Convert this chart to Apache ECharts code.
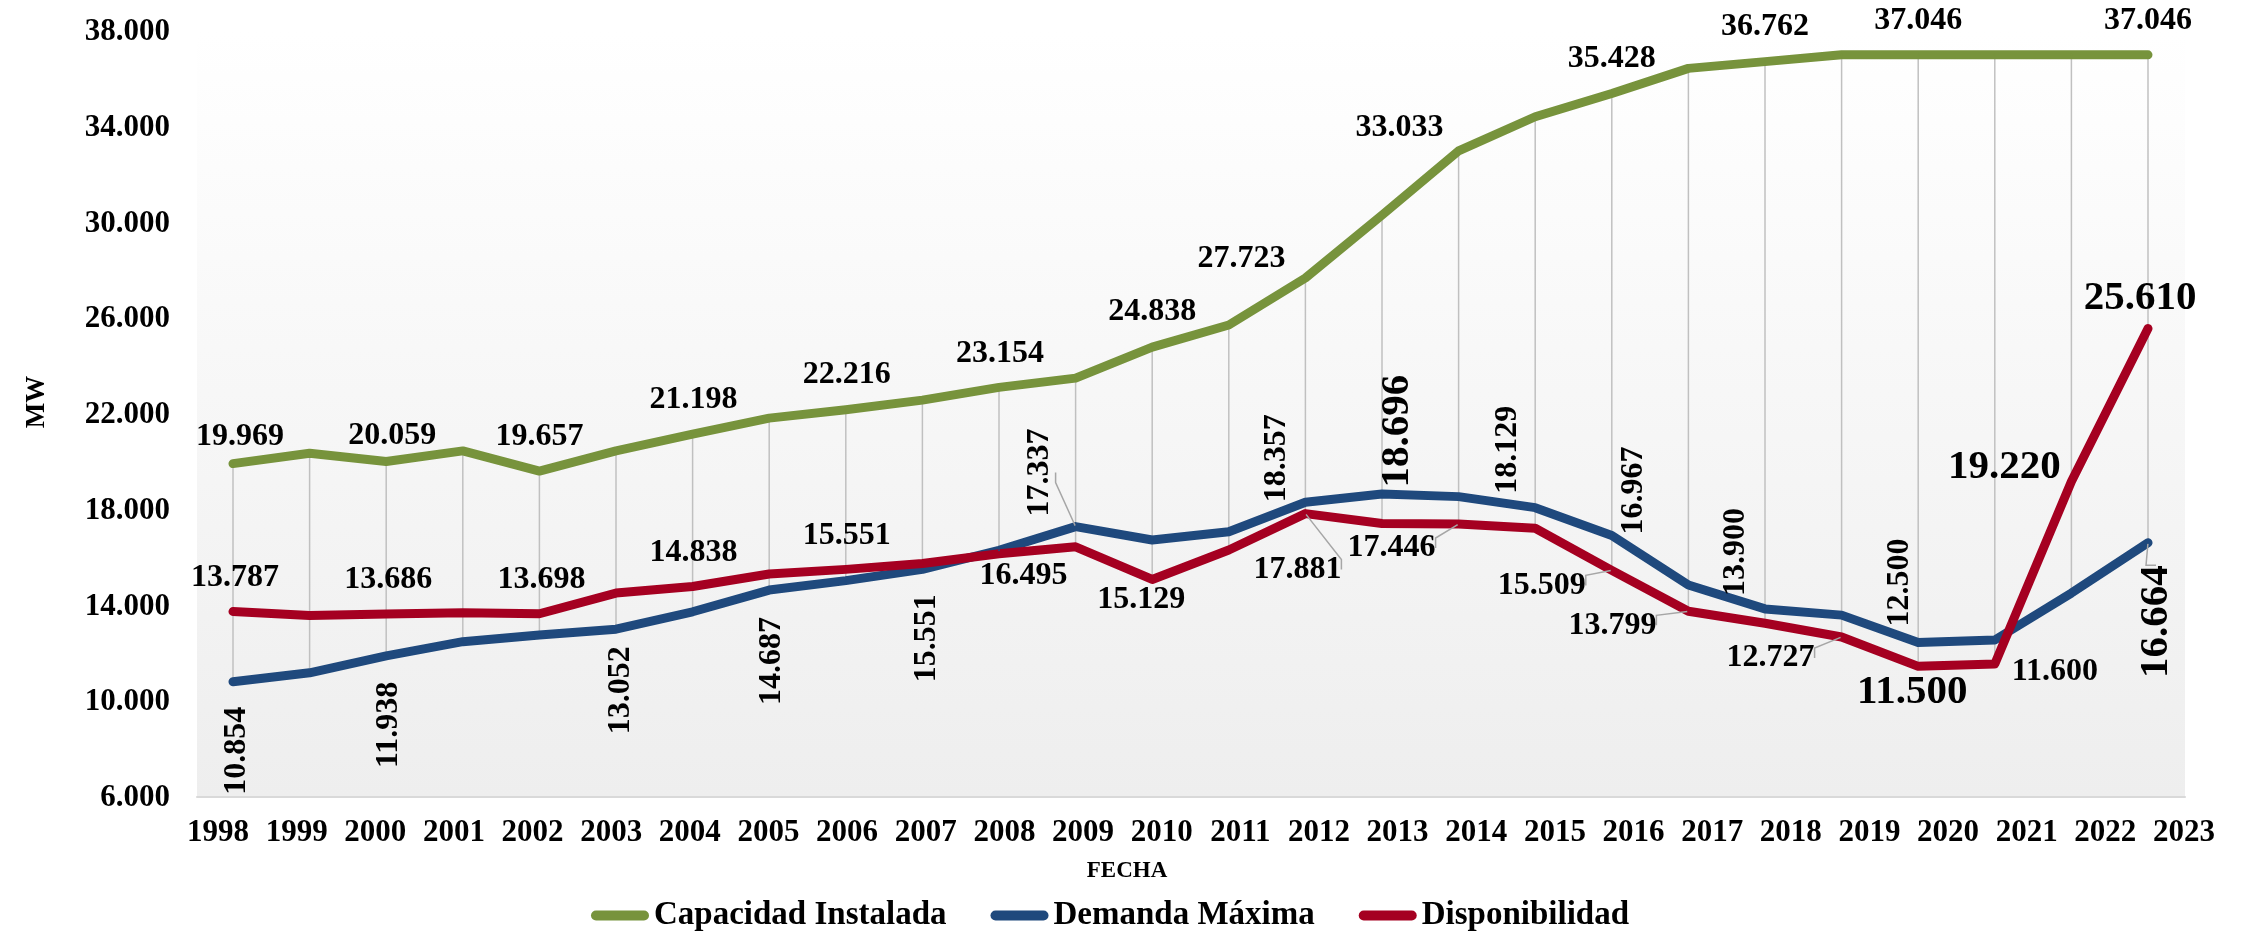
<!DOCTYPE html>
<html>
<head>
<meta charset="utf-8">
<title>Capacidad Instalada, Demanda Máxima y Disponibilidad</title>
<script src="https://cdn.jsdelivr.net/npm/echarts@6/dist/echarts.min.js"></script>
<style>
  html, body { margin: 0; padding: 0; background: #ffffff; }
  #chart { width: 2242px; height: 936px; }
</style>
</head>
<body>
<div id="chart"></div>
<script>
// ---- data (MW per year) ----
const years = ['1998','1999','2000','2001','2002','2003','2004','2005','2006','2007','2008','2009','2010',
               '2011','2012','2013','2014','2015','2016','2017','2018','2019','2020','2021','2022','2023'];

const capacidadInstalada = [19969, 20400, 20059, 20500, 19657, 20500, 21198, 21870, 22216, 22620, 23154, 23540, 24838,
                            25760, 27723, 30350, 33033, 34460, 35428, 36480, 36762, 37046, 37046, 37046, 37046, 37046];

const demandaMaxima = [10854, 11230, 11938, 12530, 12810, 13052, 13780, 14687, 15080, 15551, 16350, 17337, 16780,
                       17120, 18357, 18696, 18590, 18129, 16967, 14900, 13900, 13640, 12500, 12600, 14560, 16664];

const disponibilidad = [13787, 13620, 13686, 13740, 13698, 14560, 14838, 15360, 15551, 15800, 16200, 16495, 15129,
                        16360, 17881, 17470, 17446, 17270, 15509, 13799, 13300, 12727, 11500, 11600, 19220, 25610];

const yMin = 6000;
const yMax = 38000;
const yStep = 4000;

// ---- label placement: year index -> [dx, dy, size, leader], screen offset from the point ----
const greenLabelPlacement = {
  0: [7, -27], 2: [6, -26], 4: [0, -34], 6: [1, -34], 8: [1, -35], 10: [1, -34], 12: [0, -35],
  14: [-64, -19], 16: [-59, -23], 18: [0, -35], 20: [0, -35], 22: [0, -34], 25: [0, -34]
};
const blueLabelPlacement = {
  0: [4, 69], 2: [3, 69], 5: [5, 61], 7: [3, 71], 9: [4, 69], 11: [-36, -54, 'n', 'lead'],
  14: [-29, -44], 15: [15, -63, 'big'], 17: [-27, -58], 18: [22, -45], 20: [-29, -57],
  22: [-18, -60], 25: [8, 79, 'big', 'lead']
};
const redLabelPlacement = {
  0: [2, -34], 2: [2, -34], 4: [2, -34], 6: [1, -34], 8: [1, -34], 11: [-52, 29], 12: [-11, 20],
  14: [-8, 56, 'n', 'lead'], 16: [-67, 24, 'n', 'lead'], 18: [-70, 15, 'n', 'lead'],
  19: [-76, 14, 'n', 'lead'], 21: [-71, 21, 'n', 'lead'], 22: [-6, 26, 'big'], 23: [60, 8],
  24: [-67, -14, 'big'], 25: [-8, -30, 'big']
};

// ---- styling ----
const SERIF = "'Liberation Serif', 'Times New Roman', serif";
const COLORS = { green: '#77933c', blue: '#1f497d', red: '#a50021' };

function fmtMW(v) {
  const s = Math.round(v).toString();
  return s.replace(/\B(?=(\d{3})+(?!\d))/g, '.');
}

function buildPoints(values, placement, rotated) {
  return values.map(function (v, i) {
    const p = placement[i];
    if (!p) return { value: v, label: { show: false } };
    // label offsets live in the label's own (rotated) frame, so turn the screen offset
    const offset = rotated ? [-p[1], p[0]] : [p[0], p[1]];
    const item = {
      value: v,
      label: {
        show: true,
        position: 'inside',
        offset: offset,
        rotate: rotated ? 90 : 0,
        fontSize: p[2] === 'big' ? 41 : 32
      }
    };
    if (p[3] === 'lead') {
      item.labelLine = {
        show: true,
        length2: 10,
        smooth: false,
        lineStyle: { color: '#a6a6a6', width: 1.5 }
      };
    }
    return item;
  });
}

function lineSeries(name, values, color, placement, rotated) {
  return {
    type: 'line',
    name: name,
    xAxisIndex: 2,
    yAxisIndex: 2,
    data: buildPoints(values, placement, rotated),
    symbol: 'circle',
    symbolSize: 2,
    showAllSymbol: true,
    itemStyle: { color: color },
    lineStyle: { color: color, width: 9, cap: 'round', join: 'round' },
    label: {
      formatter: function (p) { return fmtMW(p.value); },
      fontFamily: SERIF,
      fontWeight: 'bold',
      color: '#000000'
    },
    emphasis: { disabled: true },
    silent: true,
    z: 3
  };
}

// vertical high-low connectors at every year
const highLow = years.map(function (y, i) {
  const vals = [capacidadInstalada[i], demandaMaxima[i], disponibilidad[i]];
  return [i, Math.max.apply(null, vals), Math.min.apply(null, vals)];
});

const chart = echarts.init(document.getElementById('chart'), null, { renderer: 'canvas' });

chart.setOption({
  animation: false,
  backgroundColor: '#ffffff',
  grid: [
    { // plot background
      left: 197, right: 57, top: 32, bottom: 139,
      show: true, borderWidth: 0,
      backgroundColor: {
        type: 'linear', x: 0, y: 0, x2: 0, y2: 1,
        colorStops: [{ offset: 0, color: '#ffffff' }, { offset: 1, color: '#eeeeee' }]
      }
    },
    { left: 218, right: 58, top: 32, bottom: 139 },   // year labels
    { left: 233, right: 94, top: 32, bottom: 138 }    // series
  ],
  xAxis: [
    {
      gridIndex: 0, type: 'category', data: years, boundaryGap: false,
      axisLine: { show: true, lineStyle: { color: '#d9d9d9', width: 2 } },
      axisTick: { show: false }, axisLabel: { show: false }, splitLine: { show: false }
    },
    {
      gridIndex: 1, type: 'category', data: years, boundaryGap: false,
      axisLine: { show: false }, axisTick: { show: false }, splitLine: { show: false },
      axisLabel: {
        show: true, interval: 0, margin: 20,
        fontFamily: SERIF, fontWeight: 'bold', fontSize: 31, color: '#000000'
      }
    },
    {
      gridIndex: 2, type: 'category', data: years, boundaryGap: false, show: false
    }
  ],
  yAxis: [
    { gridIndex: 0, type: 'value', min: yMin, max: yMax, show: false },
    { gridIndex: 1, type: 'value', min: yMin, max: yMax, show: false },
    {
      gridIndex: 2, type: 'value', min: yMin, max: yMax, interval: yStep,
      axisLine: { show: false }, axisTick: { show: false }, splitLine: { show: false },
      axisLabel: {
        margin: 63,
        formatter: function (v) { return fmtMW(v); },
        fontFamily: SERIF, fontWeight: 'bold', fontSize: 31, color: '#000000'
      }
    }
  ],
  legend: {
    data: ['Capacidad Instalada', 'Demanda Máxima', 'Disponibilidad'],
    left: 586,
    top: 894,
    itemWidth: 58,
    itemHeight: 10,
    itemGap: 44,
    icon: 'path://M5,0 L53,0 A5,5 0 0 1 53,10 L5,10 A5,5 0 0 1 5,0 Z',
    textStyle: { fontFamily: SERIF, fontWeight: 'bold', fontSize: 33, color: '#000000' },
    selectedMode: false
  },
  graphic: [
    {
      type: 'text', x: 1127, y: 871, silent: true,
      style: {
        text: 'FECHA', fill: '#000000', textAlign: 'center', textVerticalAlign: 'middle',
        fontFamily: SERIF, fontWeight: 'bold', fontSize: 23
      }
    },
    {
      type: 'text', x: 37, y: 402, rotation: Math.PI / 2, silent: true,
      style: {
        text: 'MW', fill: '#000000', textAlign: 'center', textVerticalAlign: 'middle',
        fontFamily: SERIF, fontWeight: 'bold', fontSize: 27
      }
    }
  ],
  series: [
    {
      type: 'custom',
      xAxisIndex: 2,
      yAxisIndex: 2,
      silent: true,
      z: 1,
      data: highLow,
      encode: { x: 0, y: [1, 2] },
      renderItem: function (params, api) {
        const top = api.coord([api.value(0), api.value(1)]);
        const bottom = api.coord([api.value(0), api.value(2)]);
        return {
          type: 'line',
          shape: { x1: top[0], y1: top[1], x2: bottom[0], y2: bottom[1] },
          style: { stroke: '#c0c0c0', lineWidth: 1.5 }
        };
      }
    },
    lineSeries('Capacidad Instalada', capacidadInstalada, COLORS.green, greenLabelPlacement, false),
    lineSeries('Demanda Máxima', demandaMaxima, COLORS.blue, blueLabelPlacement, true),
    lineSeries('Disponibilidad', disponibilidad, COLORS.red, redLabelPlacement, false)
  ]
});
</script>
</body>
</html>
